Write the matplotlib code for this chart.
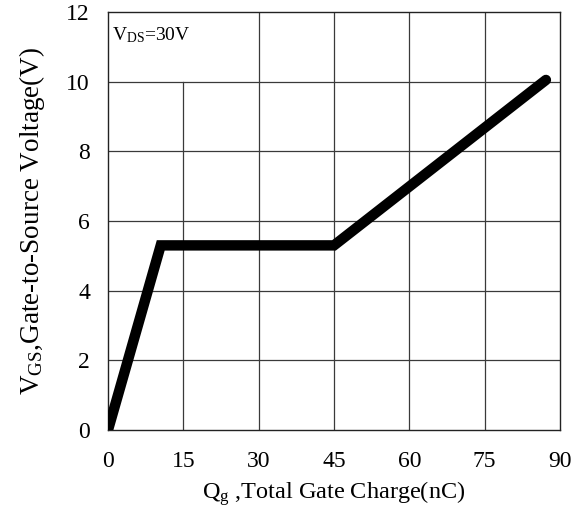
import matplotlib
matplotlib.use("Agg")
import matplotlib.pyplot as plt

plt.rcParams['font.family'] = ['Liberation Serif', 'DejaVu Serif']
plt.rcParams['mathtext.fontset'] = 'custom'
plt.rcParams['mathtext.rm'] = 'Liberation Serif'
plt.rcParams['mathtext.it'] = 'Liberation Serif'

# gate charge curve (nC, V)
qg = [0, 10.5, 45, 87.2]
vgs = [0, 5.3, 5.3, 10.05]

xticks = [0, 15, 30, 45, 60, 75, 90]
yticks = [0, 2, 4, 6, 8, 10, 12]

fig = plt.figure(figsize=(5.86, 5.16), dpi=100)
ax = fig.add_axes([0.1843, 0.1667, 0.7713, 0.81])
ax.set_xlim(0, 90)
ax.set_ylim(0, 12)

grid_c = '#3a3a3a'
for y in yticks[1:-1]:
    ax.axhline(y, color=grid_c, lw=0.9, zorder=1)
for x in xticks[1:-1]:
    top = 10 / 12 if x == 15 else 1
    ax.axvline(x, ymax=top, color=grid_c, lw=0.9, zorder=1)

ax.plot(qg, vgs, color='black', lw=7.5, solid_capstyle='round',
        solid_joinstyle='miter', zorder=3)

ax.text(0.7, 11.35, r'V$_{\mathrm{DS}}$=30V', fontsize=14, va='center', ha='left')

ax.set_xticks(xticks)
ax.set_yticks(yticks)
ax.tick_params(axis='x', length=0, labelsize=17, pad=15)
ax.tick_params(axis='y', length=0, labelsize=17, pad=13)
for s in ax.spines.values():
    s.set_linewidth(1.0)
    s.set_color('#222222')

ax.set_xlabel(r'Q$_{\mathrm{g}}$ ,Total Gate Charge(nC)', fontsize=17.5, labelpad=5)
ax.set_ylabel(r'V$_{\mathrm{GS}}$,Gate-to-Source Voltage(V)', fontsize=19.5, labelpad=14)

fig.savefig('out.png', dpi=100)
